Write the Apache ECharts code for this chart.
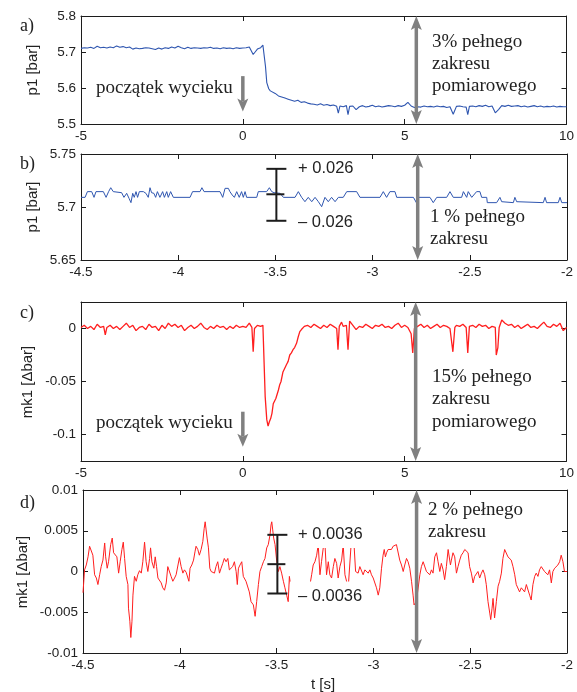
<!DOCTYPE html>
<html><head><meta charset="utf-8">
<script src="https://cdn.jsdelivr.net/npm/echarts@6/dist/echarts.min.js"></script>
<style>html,body{margin:0;padding:0;background:#fff}#c{width:577px;height:692px}</style>
</head><body><div id="c"></div>
<script>
// ---------- DATA ----------
// a) p1 [bar], t from -5 to 10 s
const p1Full = [[-5.0,5.710],[-4.9,5.712],[-4.8,5.711],[-4.7,5.713],[-4.6,5.710],[-4.5,5.716],[-4.4,5.712],[-4.3,5.713],[-4.2,5.711],[-4.1,5.714],[-4.0,5.712],[-3.9,5.717],[-3.8,5.713],[-3.7,5.715],[-3.6,5.712],[-3.5,5.714],[-3.4,5.708],[-3.3,5.711],[-3.2,5.709],[-3.1,5.710],[-3.0,5.712],[-2.9,5.711],[-2.8,5.709],[-2.7,5.707],[-2.6,5.711],[-2.5,5.708],[-2.4,5.712],[-2.3,5.710],[-2.2,5.714],[-2.1,5.711],[-2.0,5.716],[-1.9,5.712],[-1.8,5.709],[-1.7,5.713],[-1.6,5.710],[-1.5,5.712],[-1.4,5.711],[-1.3,5.710],[-1.2,5.712],[-1.1,5.711],[-1.0,5.713],[-0.9,5.710],[-0.8,5.711],[-0.7,5.709],[-0.6,5.712],[-0.5,5.710],[-0.4,5.711],[-0.3,5.709],[-0.2,5.712],[-0.1,5.710],[0.0,5.711],[0.1,5.712],[0.2,5.714],[0.25,5.711],[0.32,5.693],[0.38,5.700],[0.45,5.708],[0.55,5.712],[0.62,5.719],[0.66,5.716],[0.70,5.660],[0.74,5.615],[0.80,5.598],[0.85,5.592],[0.90,5.590],[1.0,5.585],[1.1,5.578],[1.2,5.575],[1.3,5.572],[1.4,5.569],[1.5,5.566],[1.6,5.563],[1.7,5.566],[1.8,5.560],[1.9,5.562],[2.0,5.558],[2.1,5.556],[2.2,5.555],[2.3,5.553],[2.4,5.556],[2.5,5.552],[2.6,5.554],[2.7,5.551],[2.8,5.553],[2.9,5.549],[2.95,5.530],[3.0,5.550],[3.1,5.548],[3.2,5.551],[3.25,5.526],[3.3,5.549],[3.4,5.550],[3.5,5.540],[3.6,5.548],[3.7,5.551],[3.8,5.547],[3.9,5.549],[4.0,5.552],[4.1,5.548],[4.2,5.550],[4.3,5.547],[4.4,5.549],[4.5,5.551],[4.6,5.550],[4.7,5.548],[4.8,5.551],[4.9,5.549],[5.0,5.552],[5.1,5.560],[5.2,5.550],[5.3,5.546],[5.4,5.548],[5.5,5.547],[5.6,5.550],[5.7,5.548],[5.8,5.549],[5.9,5.547],[6.0,5.550],[6.1,5.548],[6.2,5.549],[6.3,5.546],[6.4,5.548],[6.5,5.527],[6.6,5.549],[6.7,5.550],[6.8,5.548],[6.9,5.547],[6.95,5.526],[7.0,5.549],[7.1,5.550],[7.2,5.548],[7.3,5.551],[7.4,5.549],[7.5,5.552],[7.6,5.548],[7.7,5.550],[7.8,5.531],[7.9,5.540],[8.0,5.551],[8.1,5.549],[8.2,5.552],[8.3,5.549],[8.4,5.550],[8.5,5.551],[8.6,5.548],[8.7,5.550],[8.8,5.547],[8.9,5.549],[9.0,5.551],[9.1,5.548],[9.2,5.550],[9.3,5.547],[9.4,5.549],[9.5,5.548],[9.6,5.550],[9.7,5.547],[9.8,5.549],[9.9,5.548],[10.0,5.548]];

// b) p1 [bar], t from -4.5 to -2 s
const p1Zoom = [[-4.500,5.7091],[-4.479,5.7091],[-4.467,5.7145],[-4.445,5.7145],[-4.433,5.7091],[-4.423,5.7145],[-4.385,5.7145],[-4.371,5.7091],[-4.358,5.7145],[-4.347,5.7182],[-4.334,5.7145],[-4.291,5.7135],[-4.279,5.7091],[-4.265,5.7129],[-4.253,5.7082],[-4.243,5.7041],[-4.234,5.7129],[-4.226,5.7091],[-4.217,5.7145],[-4.209,5.7091],[-4.200,5.7145],[-4.179,5.7145],[-4.166,5.7129],[-4.154,5.7091],[-4.145,5.7182],[-4.137,5.7135],[-4.125,5.7129],[-4.116,5.7091],[-4.107,5.7145],[-4.094,5.7091],[-4.080,5.7145],[-4.071,5.7091],[-4.059,5.7145],[-4.051,5.7091],[-4.039,5.7145],[-4.025,5.7091],[-3.939,5.7091],[-3.926,5.7145],[-3.888,5.7145],[-3.878,5.7182],[-3.867,5.7145],[-3.785,5.7145],[-3.771,5.7091],[-3.759,5.7176],[-3.751,5.7160],[-3.742,5.7176],[-3.734,5.7145],[-3.722,5.7113],[-3.711,5.7091],[-3.699,5.7145],[-3.686,5.7091],[-3.674,5.7145],[-3.665,5.7091],[-3.656,5.7145],[-3.648,5.7091],[-3.596,5.7091],[-3.588,5.7145],[-3.545,5.7145],[-3.531,5.7182],[-3.519,5.7145],[-3.507,5.7135],[-3.497,5.7129],[-3.476,5.7129],[-3.459,5.7091],[-3.399,5.7091],[-3.382,5.7145],[-3.365,5.7091],[-3.348,5.7050],[-3.331,5.7091],[-3.313,5.7050],[-3.296,5.7091],[-3.279,5.7050],[-3.262,5.7003],[-3.245,5.7091],[-3.228,5.7050],[-3.211,5.7091],[-3.193,5.7050],[-3.176,5.7091],[-3.151,5.7091],[-3.133,5.7145],[-3.082,5.7145],[-3.065,5.7091],[-2.962,5.7091],[-2.945,5.7145],[-2.928,5.7091],[-2.911,5.7145],[-2.885,5.7145],[-2.876,5.7091],[-2.790,5.7091],[-2.773,5.7035],[-2.765,5.7091],[-2.705,5.7091],[-2.688,5.7041],[-2.670,5.7091],[-2.619,5.7091],[-2.602,5.7145],[-2.585,5.7091],[-2.542,5.7091],[-2.533,5.7145],[-2.516,5.7091],[-2.508,5.7145],[-2.490,5.7091],[-2.465,5.7145],[-2.448,5.7145],[-2.439,5.7091],[-2.413,5.7091],[-2.410,5.7041],[-2.362,5.7041],[-2.353,5.7050],[-2.345,5.7091],[-2.336,5.7050],[-2.327,5.7041],[-2.276,5.7041],[-2.268,5.7091],[-2.259,5.7050],[-2.250,5.7041],[-2.122,5.7041],[-2.113,5.7091],[-2.105,5.7041],[-2.045,5.7041],[-2.036,5.7091],[-2.027,5.7041],[-2.000,5.7041]];

// c) mk1 [Δbar], t from -5 to 10 s
const mk1Full = [[-5.0,0.001],[-4.9,0.003],[-4.8,0.000],[-4.7,0.002],[-4.6,-0.001],[-4.5,0.004],[-4.4,0.001],[-4.3,0.002],[-4.25,-0.006],[-4.2,0.001],[-4.1,0.003],[-4.0,0.000],[-3.9,0.002],[-3.8,-0.001],[-3.7,0.002],[-3.6,0.005],[-3.5,0.001],[-3.4,0.003],[-3.3,-0.002],[-3.2,0.001],[-3.1,0.002],[-3.0,-0.001],[-2.9,0.004],[-2.8,0.001],[-2.7,0.002],[-2.6,-0.002],[-2.5,0.003],[-2.4,0.000],[-2.3,0.005],[-2.2,0.002],[-2.1,0.004],[-2.0,0.001],[-1.9,0.003],[-1.8,-0.002],[-1.7,0.001],[-1.6,0.003],[-1.5,0.000],[-1.4,0.002],[-1.3,0.005],[-1.2,0.001],[-1.1,-0.001],[-1.0,0.002],[-0.9,0.000],[-0.8,0.003],[-0.7,0.001],[-0.6,0.002],[-0.5,-0.001],[-0.4,0.002],[-0.3,0.000],[-0.2,0.003],[-0.1,0.001],[0.0,0.002],[0.1,0.001],[0.2,0.005],[0.28,0.001],[0.32,-0.022],[0.36,0.000],[0.45,0.003],[0.55,0.002],[0.62,0.003],[0.66,0.002],[0.69,-0.064],[0.74,-0.086],[0.78,-0.092],[0.82,-0.088],[0.86,-0.085],[0.90,-0.080],[0.94,-0.071],[0.98,-0.072],[1.02,-0.066],[1.06,-0.062],[1.10,-0.058],[1.14,-0.053],[1.18,-0.050],[1.24,-0.041],[1.28,-0.040],[1.35,-0.034],[1.40,-0.031],[1.45,-0.025],[1.50,-0.023],[1.55,-0.020],[1.60,-0.018],[1.66,-0.014],[1.71,-0.008],[1.76,-0.003],[1.81,-0.001],[1.9,0.002],[2.0,0.003],[2.1,0.001],[2.2,0.004],[2.3,0.002],[2.4,0.000],[2.5,0.003],[2.6,0.001],[2.7,0.004],[2.8,0.002],[2.9,0.000],[2.94,-0.020],[2.98,0.002],[3.05,0.006],[3.1,0.002],[3.2,0.003],[3.25,-0.020],[3.3,0.007],[3.4,0.003],[3.5,-0.001],[3.6,0.002],[3.7,0.001],[3.8,0.004],[3.9,0.002],[4.0,0.000],[4.1,0.003],[4.2,0.002],[4.3,0.004],[4.4,0.001],[4.5,0.002],[4.6,0.000],[4.7,0.003],[4.8,0.005],[4.9,0.001],[5.0,0.003],[5.1,0.001],[5.2,-0.005],[5.25,-0.023],[5.3,0.000],[5.4,0.002],[5.5,0.004],[5.6,0.001],[5.7,0.003],[5.8,0.000],[5.9,0.002],[6.0,0.004],[6.1,0.001],[6.2,0.003],[6.3,0.002],[6.4,0.000],[6.49,-0.022],[6.55,0.001],[6.6,0.003],[6.7,0.002],[6.8,0.004],[6.9,0.001],[6.95,-0.023],[7.0,0.002],[7.1,0.003],[7.2,0.001],[7.3,0.004],[7.4,0.002],[7.5,0.003],[7.6,0.000],[7.7,0.002],[7.8,0.001],[7.83,-0.025],[7.88,-0.018],[7.92,0.001],[8.0,0.008],[8.1,0.005],[8.2,0.003],[8.3,0.004],[8.4,0.001],[8.5,0.003],[8.6,0.000],[8.7,0.002],[8.8,0.004],[8.9,0.001],[9.0,0.002],[9.1,0.000],[9.2,0.003],[9.3,0.006],[9.4,0.002],[9.5,0.001],[9.6,0.004],[9.7,0.002],[9.8,0.005],[9.9,-0.002],[10.0,0.001]];

// d) mk1 [Δbar], t from -4.5 to -2 s
const mk1Zoom = [[-4.500,-0.0026],[-4.492,0.0002],[-4.483,0.0008],[-4.474,0.0018],[-4.466,0.0031],[-4.457,0.0029],[-4.449,0.0020],[-4.440,-0.0004],[-4.431,-0.0008],[-4.423,-0.0016],[-4.414,-0.0004],[-4.406,0.0006],[-4.397,0.0014],[-4.388,0.0035],[-4.383,0.0018],[-4.375,0.0004],[-4.368,0.0012],[-4.357,0.0033],[-4.349,0.0041],[-4.342,0.0023],[-4.333,0.0023],[-4.325,0.0018],[-4.316,-0.0002],[-4.308,0.0012],[-4.299,0.0027],[-4.292,0.0036],[-4.285,0.0016],[-4.277,-0.0006],[-4.268,-0.0016],[-4.265,-0.0045],[-4.258,-0.0061],[-4.253,-0.0081],[-4.247,-0.0061],[-4.242,-0.0029],[-4.234,-0.0006],[-4.225,-0.0012],[-4.217,-0.0004],[-4.208,0.0001],[-4.199,-0.0002],[-4.191,0.0012],[-4.182,0.0036],[-4.174,0.0012],[-4.165,0.0000],[-4.156,0.0016],[-4.151,0.0029],[-4.144,0.0012],[-4.134,0.0004],[-4.127,0.0018],[-4.120,0.0006],[-4.113,-0.0008],[-4.105,-0.0006],[-4.096,-0.0014],[-4.088,-0.0020],[-4.079,-0.0023],[-4.070,-0.0014],[-4.062,0.0006],[-4.053,0.0007],[-4.045,-0.0006],[-4.036,-0.0012],[-4.027,-0.0008],[-4.019,-0.0004],[-4.010,-0.0004],[-4.002,0.0017],[-3.993,0.0006],[-3.984,-0.0002],[-3.976,0.0002],[-3.967,-0.0001],[-3.959,-0.0001],[-3.953,-0.0012],[-3.947,0.0004],[-3.938,0.0008],[-3.929,0.0014],[-3.921,0.0025],[-3.916,0.0031],[-3.907,0.0027],[-3.899,0.0020],[-3.890,0.0027],[-3.881,0.0037],[-3.874,0.0053],[-3.869,0.0061],[-3.864,0.0051],[-3.859,0.0041],[-3.852,0.0029],[-3.845,0.0004],[-3.838,0.0000],[-3.830,0.0000],[-3.821,-0.0002],[-3.813,0.0006],[-3.804,0.0012],[-3.795,-0.0002],[-3.787,0.0004],[-3.778,0.0010],[-3.770,0.0016],[-3.761,0.0012],[-3.752,0.0016],[-3.744,0.0002],[-3.735,0.0004],[-3.727,0.0006],[-3.718,0.0012],[-3.709,0.0000],[-3.703,-0.0016],[-3.697,0.0004],[-3.689,0.0008],[-3.680,0.0012],[-3.672,-0.0006],[-3.666,-0.0006],[-3.658,-0.0012],[-3.649,-0.0014],[-3.641,-0.0025],[-3.632,-0.0037],[-3.620,-0.0041],[-3.611,-0.0055],[-3.603,-0.0037],[-3.594,-0.0016],[-3.586,0.0000],[-3.577,0.0006],[-3.568,0.0012],[-3.560,0.0016],[-3.551,0.0029],[-3.543,0.0033],[-3.534,0.0045],[-3.529,0.0057],[-3.525,0.0061],[-3.520,0.0051],[-3.515,0.0041],[-3.508,0.0033],[-3.500,0.0014],[-3.491,0.0000],[-3.483,0.0006],[-3.474,-0.0002],[-3.465,-0.0012],[-3.457,-0.0020],[-3.448,-0.0029],[-3.440,-0.0037],[-3.434,-0.0006],[-3.414,-0.0041],[-3.379,-0.0043],[-3.345,-0.0041],[-3.319,-0.0004],[-3.311,0.0008],[-3.302,0.0012],[-3.293,0.0020],[-3.285,0.0033],[-3.276,-0.0004],[-3.268,0.0012],[-3.259,0.0029],[-3.250,0.0033],[-3.242,-0.0004],[-3.233,0.0012],[-3.225,-0.0004],[-3.216,-0.0008],[-3.207,0.0006],[-3.199,0.0016],[-3.190,0.0010],[-3.182,-0.0008],[-3.173,0.0006],[-3.164,0.0014],[-3.156,0.0033],[-3.147,-0.0004],[-3.130,-0.0020],[-3.113,0.0041],[-3.099,0.0029],[-3.092,0.0000],[-3.084,0.0002],[-3.079,-0.0002],[-3.070,0.0006],[-3.061,0.0008],[-3.053,-0.0004],[-3.044,0.0002],[-3.036,0.0000],[-3.027,-0.0002],[-3.018,0.0002],[-3.010,-0.0004],[-3.001,-0.0008],[-2.993,-0.0010],[-2.984,-0.0020],[-2.975,-0.0029],[-2.967,-0.0020],[-2.958,0.0004],[-2.950,0.0020],[-2.944,0.0027],[-2.938,0.0018],[-2.932,0.0023],[-2.924,0.0027],[-2.915,0.0025],[-2.907,0.0027],[-2.898,0.0031],[-2.889,0.0029],[-2.881,0.0033],[-2.872,0.0031],[-2.864,0.0014],[-2.855,0.0008],[-2.846,0.0000],[-2.838,0.0008],[-2.829,0.0016],[-2.821,0.0012],[-2.812,0.0004],[-2.803,-0.0012],[-2.795,-0.0029],[-2.790,-0.0041],[-2.778,-0.0037],[-2.760,-0.0004],[-2.752,0.0006],[-2.743,0.0012],[-2.735,0.0010],[-2.726,0.0000],[-2.717,-0.0002],[-2.709,-0.0004],[-2.700,0.0002],[-2.692,-0.0002],[-2.683,0.0018],[-2.674,0.0023],[-2.666,0.0012],[-2.657,0.0000],[-2.649,0.0010],[-2.640,0.0002],[-2.632,-0.0010],[-2.623,0.0006],[-2.614,0.0027],[-2.609,0.0029],[-2.602,0.0008],[-2.597,0.0014],[-2.589,0.0023],[-2.580,0.0018],[-2.571,-0.0002],[-2.563,0.0006],[-2.554,0.0014],[-2.546,0.0020],[-2.537,0.0023],[-2.528,0.0027],[-2.520,0.0025],[-2.511,0.0023],[-2.503,0.0006],[-2.494,-0.0002],[-2.485,-0.0014],[-2.477,-0.0006],[-2.468,-0.0004],[-2.460,0.0000],[-2.451,-0.0008],[-2.442,-0.0002],[-2.434,0.0002],[-2.425,-0.0004],[-2.417,-0.0016],[-2.408,-0.0037],[-2.399,-0.0051],[-2.394,-0.0059],[-2.387,-0.0045],[-2.382,-0.0033],[-2.374,-0.0057],[-2.365,-0.0037],[-2.356,-0.0018],[-2.348,-0.0012],[-2.339,-0.0002],[-2.331,0.0016],[-2.322,0.0027],[-2.313,0.0025],[-2.305,0.0018],[-2.296,0.0016],[-2.288,0.0014],[-2.279,0.0006],[-2.270,-0.0004],[-2.262,-0.0016],[-2.253,-0.0014],[-2.245,-0.0025],[-2.236,-0.0020],[-2.227,-0.0018],[-2.219,-0.0025],[-2.210,-0.0016],[-2.202,-0.0018],[-2.193,-0.0029],[-2.185,-0.0035],[-2.176,-0.0016],[-2.167,-0.0006],[-2.159,-0.0002],[-2.150,-0.0006],[-2.142,0.0002],[-2.133,0.0006],[-2.124,0.0006],[-2.116,0.0000],[-2.107,0.0000],[-2.099,-0.0004],[-2.090,0.0002],[-2.081,-0.0014],[-2.073,0.0000],[-2.064,0.0004],[-2.056,0.0006],[-2.047,0.0008],[-2.038,0.0012],[-2.030,0.0020],[-2.021,0.0012],[-2.013,0.0000],[-2.004,0.0002],[-2.000,0.0000]];

// annotations in data units: [t, from, to]
const rangeArrowA = [[5.36, 5.5, 5.8]];
const rangeArrowB = [[-2.768, 5.65, 5.75]];
const rangeArrowC = [[5.34, -0.125, 0.025]];
const rangeArrowD = [[-2.777, -0.01, 0.01]];
const leakArrowA = [[0, 5.633, 5.535]];
const leakArrowC = [[0, -0.0785, -0.1115]];
// error bars: [t, top, mid, bottom]
const errBarB = [[-3.495, 5.736, 5.712, 5.687]];
const errBarD = [[-3.496, 0.0045, 0.0009, -0.0027]];

// axis ranges / ticks
const xFull = {min: -5, max: 10, interval: 5};
const xZoom = {min: -4.5, max: -2, interval: 0.5};
const yA = {min: 5.5, max: 5.8, interval: 0.1};
const yB = {min: 5.65, max: 5.75, interval: 0.05};
const yC = {min: -0.125, max: 0.025, ticks: [-0.1, -0.05, 0]};
const yD = {min: -0.01, max: 0.01, interval: 0.005};

// ---------- STYLE ----------
const FRAME = '#1c1c1c', GREY = '#808080', TXT = '#222';
const SERIF = '"Liberation Serif","Times New Roman",serif';
const SANS = '"Liberation Sans",Arial,sans-serif';
const BLUE = '#2f56b0', RED = '#ff1f1f';

const grids = [
  {left: 81, top: 16, width: 486, height: 108},
  {left: 81, top: 154, width: 486, height: 106},
  {left: 81, top: 302, width: 486, height: 159},
  {left: 83, top: 490, width: 484, height: 163}
];

function xAxesFor(g, r) {
  const common = {gridIndex: g, type: 'value', min: r.min, max: r.max, interval: r.interval,
    splitLine: {show: false},
    axisLine: {onZero: false, lineStyle: {color: FRAME, width: 1}},
    axisTick: {inside: true, length: 5, lineStyle: {color: FRAME}}};
  return [
    Object.assign({}, common, {position: 'bottom',
      axisLabel: {color: TXT, fontSize: 13.5, fontFamily: SANS, margin: 5}}),
    Object.assign({}, common, {position: 'top', axisLabel: {show: false}})
  ];
}
function yAxesFor(g, r) {
  const tick = {inside: true, length: 5, lineStyle: {color: FRAME}};
  const lab = {color: TXT, fontSize: 13.5, fontFamily: SANS, margin: 5};
  if (r.ticks) { tick.customValues = r.ticks; lab.customValues = r.ticks; }
  const common = {gridIndex: g, type: 'value', min: r.min, max: r.max,
    splitLine: {show: false},
    axisLine: {onZero: false, lineStyle: {color: FRAME, width: 1}}};
  if (r.interval) common.interval = r.interval;
  return [
    Object.assign({}, common, {position: 'left', axisTick: tick, axisLabel: lab}),
    Object.assign({}, common, {position: 'right', axisTick: tick, axisLabel: {show: false}})
  ];
}

function lineSeries(i, data, color, w) {
  return {type: 'line', xAxisIndex: 2 * i, yAxisIndex: 2 * i, data: data, symbol: 'none',
    showSymbol: false, animation: false, z: 2, clip: true,
    lineStyle: {color: color, width: w}};
}

function renderDoubleArrow(params, api) {
  const x = api.value(0);
  const a = api.coord([x, api.value(1)]), b = api.coord([x, api.value(2)]);
  const top = Math.min(a[1], b[1]), bot = Math.max(a[1], b[1]), cx = a[0];
  const hw = 5.5, hh = 14;
  return {type: 'group', children: [
    {type: 'line', shape: {x1: cx, y1: top + hh - 3, x2: cx, y2: bot - hh + 3}, style: {stroke: GREY, lineWidth: 3.5}},
    {type: 'polygon', shape: {points: [[cx, top], [cx - hw, top + hh], [cx, top + hh - 3], [cx + hw, top + hh]]}, style: {fill: GREY}},
    {type: 'polygon', shape: {points: [[cx, bot], [cx - hw, bot - hh], [cx, bot - hh + 3], [cx + hw, bot - hh]]}, style: {fill: GREY}}
  ]};
}
function renderDownArrow(params, api) {
  const x = api.value(0);
  const a = api.coord([x, api.value(1)]), b = api.coord([x, api.value(2)]);
  const cx = a[0], hw = 5.5, hh = 13;
  return {type: 'group', children: [
    {type: 'line', shape: {x1: cx, y1: a[1], x2: cx, y2: b[1] - hh + 3}, style: {stroke: GREY, lineWidth: 3.5}},
    {type: 'polygon', shape: {points: [[cx, b[1]], [cx - hw, b[1] - hh], [cx, b[1] - hh + 3], [cx + hw, b[1] - hh]]}, style: {fill: GREY}}
  ]};
}
function renderErrBar(params, api) {
  const x = api.value(0);
  const t = api.coord([x, api.value(1)]), m = api.coord([x, api.value(2)]), b = api.coord([x, api.value(3)]);
  const cx = t[0], w = 10;
  const st = {stroke: FRAME, lineWidth: 2};
  return {type: 'group', children: [
    {type: 'line', shape: {x1: cx, y1: t[1], x2: cx, y2: b[1]}, style: st},
    {type: 'line', shape: {x1: cx - w, y1: t[1], x2: cx + w, y2: t[1]}, style: st},
    {type: 'line', shape: {x1: cx - w, y1: m[1], x2: cx + w - 2, y2: m[1]}, style: st},
    {type: 'line', shape: {x1: cx - w, y1: b[1], x2: cx + w, y2: b[1]}, style: st}
  ]};
}
function customSeries(i, data, fn) {
  return {type: 'custom', xAxisIndex: 2 * i, yAxisIndex: 2 * i, data: data, renderItem: fn,
    animation: false, z: 5, clip: false, silent: true};
}

function txt(x, y, s, font, extra) {
  const st = Object.assign({text: s, font: font, fill: TXT, textAlign: 'left', textVerticalAlign: 'middle',
    align: 'left', verticalAlign: 'middle'}, extra || {});
  return {type: 'text', x: x, y: y, z: 100, silent: true, style: st};
}
function rtxt(x, y, s, font) {
  return {type: 'text', x: x, y: y, z: 100, rotation: Math.PI / 2, silent: true,
    style: {text: s, font: font, fill: TXT, textAlign: 'center', textVerticalAlign: 'middle', align: 'center', verticalAlign: 'middle'}};
}
const F19 = '19px ' + SERIF, F18 = '18px ' + SERIF, FS = '16.5px ' + SANS, FN = '15px ' + SANS;
const boxStyle = (pt, pb) => ({backgroundColor: '#fff', padding: [pt, 4, pb, 8]});

const chart = echarts.init(document.getElementById('c'), null, {renderer: 'canvas'});
chart.setOption({
  animation: false,
  backgroundColor: '#fff',
  grid: grids,
  xAxis: [].concat(xAxesFor(0, xFull), xAxesFor(1, xZoom), xAxesFor(2, xFull), xAxesFor(3, xZoom)),
  yAxis: [].concat(yAxesFor(0, yA), yAxesFor(1, yB), yAxesFor(2, yC), yAxesFor(3, yD)),
  series: [
    lineSeries(0, p1Full, BLUE, 1.1),
    lineSeries(1, p1Zoom, BLUE, 1),
    lineSeries(2, mk1Full, RED, 1.3),
    lineSeries(3, mk1Zoom, RED, 1),
    customSeries(0, rangeArrowA, renderDoubleArrow),
    customSeries(1, rangeArrowB, renderDoubleArrow),
    customSeries(2, rangeArrowC, renderDoubleArrow),
    customSeries(3, rangeArrowD, renderDoubleArrow),
    customSeries(0, leakArrowA, renderDownArrow),
    customSeries(2, leakArrowC, renderDownArrow),
    customSeries(1, errBarB, renderErrBar),
    customSeries(3, errBarD, renderErrBar)
  ],
  graphic: [
    txt(20, 26, 'a)', F18), txt(20, 164, 'b)', F18), txt(20, 313, 'c)', F18), txt(20, 503, 'd)', F18),
    rtxt(33, 70, 'p1 [bar]', FN), rtxt(33, 207, 'p1 [bar]', FN),
    rtxt(28, 382, 'mk1 [Δbar]', FN), rtxt(23, 572, 'mk1 [Δbar]', FN),
    txt(96, 88, 'początek wycieku', F19), txt(96, 423, 'początek wycieku', F19),
    txt(432, 42, '3% pełnego', F19), txt(432, 64, 'zakresu', F19), txt(432, 86, 'pomiarowego', F19),
    txt(430, 217, '1 % pełnego', F19), txt(430, 239, 'zakresu', F19),
    txt(432, 377, '15% pełnego', F19), txt(432, 399.5, 'zakresu', F19), txt(432, 422, 'pomiarowego', F19),
    txt(428, 510, '2 % pełnego', F19), txt(428, 532, 'zakresu', F19),
    txt(290, 168, '+ 0.026', FS, boxStyle(2, 2)), txt(290, 222, '– 0.026', FS, boxStyle(2, 2)),
    txt(290, 534, '+ 0.0036', FS, boxStyle(8, 3)), txt(290, 596, '– 0.0036', FS, boxStyle(8, 4)),
    txt(323, 685, 't [s]', FN, {textAlign: 'center', align: 'center'})
  ]
});
</script>
</body></html>
